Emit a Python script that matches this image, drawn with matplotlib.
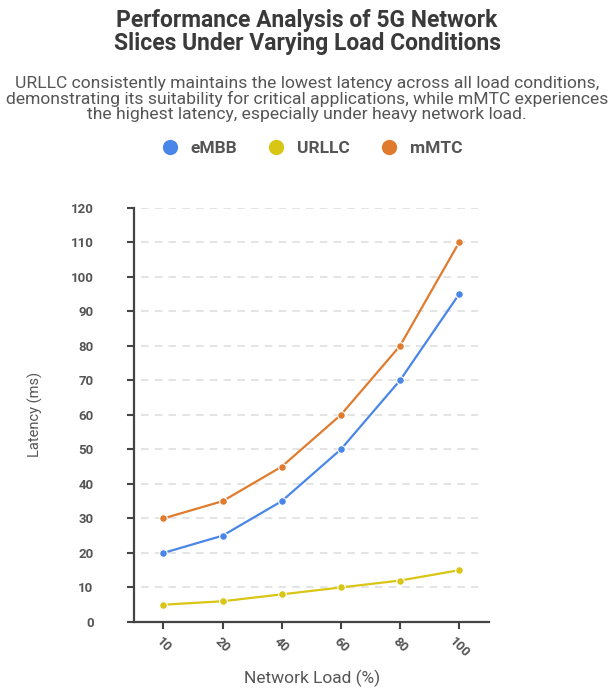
"""
5G network slice latency vs network load, three slices as lines.
Writes out.png (614x690).
"""

import matplotlib.pyplot as plt

# ── Data ──────────────────────────────────────────────────────────────────────
LOADS = ["10", "20", "40", "60", "80", "100"]
EMBB = [20, 25, 35, 50, 70, 95]
URLLC = [5, 6, 8, 10, 12, 15]
MMTC = [30, 35, 45, 60, 80, 110]
Y_TICKS = list(range(0, 121, 10))

# ── Palette & style ───────────────────────────────────────────────────────────
BLUE = "#4A86E8"
YELLOW = "#D9C514"
ORANGE = "#E07B2E"
TITLE_COLOR = "#3A3A3A"
TEXT_COLOR = "#555555"
AXIS_COLOR = "#444444"
GRID_COLOR = "#DDDDDD"

plt.rcParams["font.family"] = ["Roboto", "DejaVu Sans"]

fig = plt.figure(figsize=(6.14, 6.9), dpi=100)
fig.patch.set_facecolor("white")
ax = fig.add_axes([0.218, 0.0986, 0.578, 0.6003])

series = [
    ("eMBB", EMBB, BLUE),
    ("URLLC", URLLC, YELLOW),
    ("mMTC", MMTC, ORANGE),
]
x = list(range(len(LOADS)))
for name, vals, color in series:
    ax.plot(
        x, vals, "-o", color=color, linewidth=1.6, markersize=5.5,
        markeredgecolor="white", markeredgewidth=0.8, label=name, zorder=3,
    )

# gridlines (stop short of the axis ends like the reference)
for yv in Y_TICKS[1:]:
    ax.axhline(yv, xmin=0.02, xmax=0.97, color=GRID_COLOR, linestyle=(0, (5, 4)),
               linewidth=1.1, zorder=1)

ax.set_xlim(-0.5, 5.5)
ax.set_ylim(0, 120)
ax.set_xticks(x)
ax.set_xticklabels(LOADS, rotation=-45, ha="center", va="top",
                   fontsize=9.5, fontweight="bold", color=TEXT_COLOR)
ax.set_yticks(Y_TICKS)
ax.set_yticklabels([str(v) for v in Y_TICKS], fontsize=9.5, fontweight="bold", color=TEXT_COLOR)
ax.tick_params(axis="y", length=5, width=1.5, color=AXIS_COLOR, pad=24)
ax.tick_params(axis="x", length=5, width=1.5, color=AXIS_COLOR, pad=4)

for side in ("top", "right"):
    ax.spines[side].set_visible(False)
for side in ("left", "bottom"):
    ax.spines[side].set_color(AXIS_COLOR)
    ax.spines[side].set_linewidth(1.6)

ax.set_ylabel("Latency (ms)", fontsize=10.5, color=TEXT_COLOR, labelpad=20)
fig.text(0.508, 0.017, "Network Load (%)", ha="center", va="center",
         fontsize=12.5, color=TEXT_COLOR)

# ── Titles & legend ───────────────────────────────────────────────────────────
fig.text(0.5, 0.953, "Performance Analysis of 5G Network\nSlices Under Varying Load Conditions",
         ha="center", va="center", fontsize=16.5, fontweight="bold", color=TITLE_COLOR,
         linespacing=1.0)
fig.text(0.5, 0.857,
         "URLLC consistently maintains the lowest latency across all load conditions,\n"
         "demonstrating its suitability for critical applications, while mMTC experiences\n"
         "the highest latency, especially under heavy network load.",
         ha="center", va="center", fontsize=12.6, color=TEXT_COLOR, linespacing=1.0)

leg = fig.legend(
    handles=ax.get_lines()[:3], loc="center", bbox_to_anchor=(0.51, 0.785), ncol=3,
    frameon=False, handlelength=0.7, handletextpad=0.85, columnspacing=1.9,
    prop={"size": 12.5, "weight": "bold"},
)
for h in leg.legend_handles:
    h.set_linestyle("none")
    h.set_markersize(11)
    h.set_markeredgewidth(0)
for t in leg.get_texts():
    t.set_color(TEXT_COLOR)

fig.savefig("out.png", dpi=100, facecolor="white")
